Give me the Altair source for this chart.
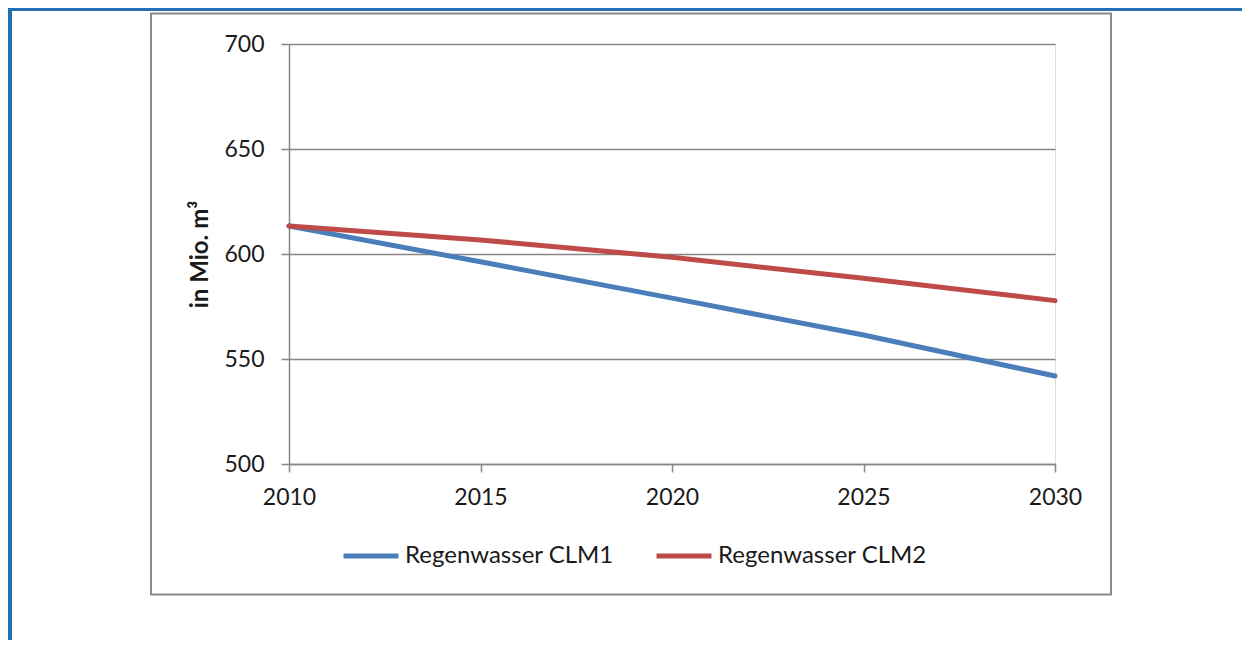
import altair as alt
import pandas as pd

# ---- data ----
years = [2010, 2015, 2020, 2025, 2030]
clm1 = [613.3, 596.3, 579.0, 561.4, 541.9]
clm2 = [613.3, 606.7, 598.4, 588.4, 577.8]
series_names = ["Regenwasser CLM1", "Regenwasser CLM2"]
series_colors = ["#4a7ebb", "#be4b48"]
y_ticks = [500, 550, 600, 650, 700]
x_ticks = [2010, 2015, 2020, 2025, 2030]
y_title = "in Mio. m³"

rows = []
for name, vals in zip(series_names, [clm1, clm2]):
    for yr, v in zip(years, vals):
        rows.append({"Jahr": yr, "Wert": v, "Serie": name})
df = pd.DataFrame(rows)

W, H = 766, 420
FONT = "Lato"
GRAY = "#868686"
TXT = "#1a1a1a"
FRAME_BLUE = "#2470b2"
LBL = 23

one = alt.Data(values=[{}])

box = alt.Chart(one).mark_rect(fillOpacity=0, stroke="#8a8a8a", strokeWidth=2).encode(
    x=alt.value(-138), x2=alt.value(822), y=alt.value(-30.5), y2=alt.value(550.5)
)
top_rule = alt.Chart(one).mark_rule(color=FRAME_BLUE, strokeWidth=3).encode(
    x=alt.value(-281), x2=alt.value(961), y=alt.value(-34.5)
)
left_rule = alt.Chart(one).mark_rule(color=FRAME_BLUE, strokeWidth=4).encode(
    x=alt.value(-279), y=alt.value(-36), y2=alt.value(604)
)

lines = alt.Chart(df).mark_line(strokeWidth=5, strokeCap="round").encode(
    x=alt.X(
        "Jahr:Q",
        scale=alt.Scale(domain=[2010, 2030], nice=False, zero=False),
        axis=alt.Axis(
            values=x_ticks, format="d", title=None, grid=False,
            domain=True, domainColor=GRAY, domainWidth=1.5,
            ticks=True, tickSize=8, tickColor=GRAY, tickWidth=1.5,
            labelFont=FONT, labelFontSize=LBL, labelColor=TXT, labelPadding=14,
            labelFlush=False, labelOverlap=False,
        ),
    ),
    y=alt.Y(
        "Wert:Q",
        scale=alt.Scale(domain=[500, 700], nice=False, zero=False),
        axis=alt.Axis(
            values=y_ticks, title=y_title, grid=True, gridColor=GRAY, gridWidth=1.5,
            domain=True, domainColor=GRAY, domainWidth=1.5,
            ticks=True, tickSize=8, tickColor=GRAY, tickWidth=1.5,
            labelFont=FONT, labelFontSize=LBL, labelColor=TXT, labelPadding=17,
            labelFlush=False, labelOverlap=False,
            titleFont=FONT, titleFontSize=24, titleFontWeight="bold", titleColor=TXT,
            titleX=-89, titleY=210, titleAngle=270, titleAlign="center", titleBaseline="middle",
        ),
    ),
    color=alt.Color(
        "Serie:N",
        scale=alt.Scale(domain=series_names, range=series_colors),
        legend=alt.Legend(
            title=None, orient="none", legendX=52, legendY=482, direction="horizontal",
            symbolType="stroke", symbolStrokeWidth=5, symbolSize=3025,
            labelFont=FONT, labelFontSize=24, labelColor=TXT, labelOffset=4,
            labelLimit=400, columnPadding=32, padding=0,
        ),
    ),
)

chart = alt.layer(box, top_rule, left_rule, lines).properties(
    width=W, height=H,
    padding={"left": 281, "top": 36, "right": 187, "bottom": 176},
    autosize=alt.AutoSizeParams(type="none"),
).configure_view(strokeWidth=0).configure(background="white")

chart.save("out.html", embed_options={"renderer": "svg", "actions": False})
